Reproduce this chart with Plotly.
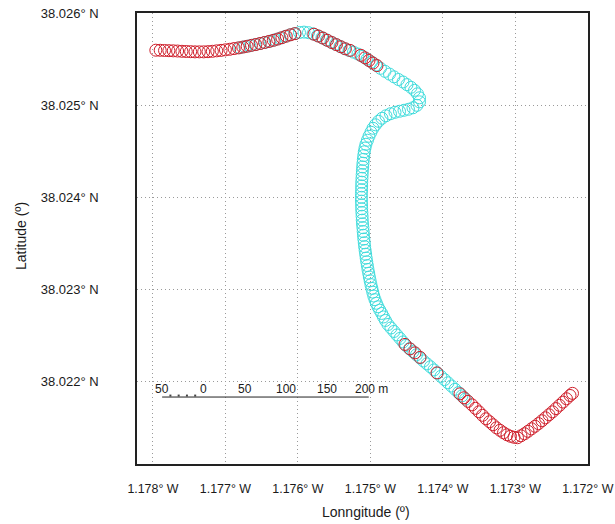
import math
import plotly.graph_objects as go

# ---------------- data ----------------
red_lon = [
    -1.17796, -1.17790, -1.17784, -1.17778, -1.17772, -1.17766, -1.17760, -1.17754, -1.17748, -1.17742,
    -1.17736, -1.17730, -1.17724, -1.17718, -1.17712, -1.17706, -1.17700, -1.17694, -1.17688, -1.17682,
    -1.17676, -1.17670, -1.17664, -1.17658, -1.17652, -1.17646, -1.17640, -1.17634, -1.17628, -1.17622,
    -1.17616, -1.17610, -1.17604,
    -1.175778, -1.175716, -1.175654, -1.175592, -1.175530, -1.175468, -1.175406, -1.175344, -1.175281,
    -1.175130, -1.175074, -1.175019, -1.174964, -1.174909,
    -1.174522, -1.174453, -1.174384, -1.174315, -1.174081,
    -1.173763, -1.173708, -1.173653, -1.173598, -1.173550, -1.173501, -1.173453, -1.173405, -1.173356,
    -1.173308, -1.173260, -1.173211, -1.173163, -1.173115, -1.173067, -1.173018, -1.172970, -1.172922,
    -1.172873, -1.172825, -1.172777, -1.172728, -1.172680, -1.172632, -1.172584, -1.172535, -1.172487,
    -1.172439, -1.172390, -1.172342, -1.172294, -1.172245, -1.172211,
]
red_lat = [
    38.025605, 38.025604, 38.025602, 38.025600, 38.025598, 38.025596, 38.025593, 38.025591, 38.025589, 38.025587,
    38.025587, 38.025587, 38.025589, 38.025593, 38.025598, 38.025603, 38.025609, 38.025615, 38.025623, 38.025630,
    38.025639, 38.025648, 38.025658, 38.025667, 38.025678, 38.025689, 38.025700, 38.025712, 38.025726, 38.025741,
    38.025758, 38.025773, 38.025785,
    38.025779, 38.025759, 38.025737, 38.025712, 38.025688, 38.025665, 38.025642, 38.025620, 38.025603,
    38.025549, 38.025522, 38.025493, 38.025465, 38.025437,
    38.022402, 38.022353, 38.022310, 38.022261, 38.022092,
    38.021864, 38.021821, 38.021782, 38.021744, 38.021706, 38.021668, 38.021630, 38.021592, 38.021560,
    38.021527, 38.021494, 38.021467, 38.021440, 38.021418, 38.021402, 38.021391, 38.021386, 38.021407,
    38.021429, 38.021456, 38.021483, 38.021511, 38.021540, 38.021571, 38.021603, 38.021636, 38.021668,
    38.021703, 38.021739, 38.021774, 38.021810, 38.021846, 38.021869,
]

cyan_lon = [
    -1.176799, -1.176730, -1.176661, -1.176592, -1.176523, -1.176454, -1.176385, -1.176316, -1.176247, -1.176178,
    -1.176109, -1.176040, -1.175978, -1.175916, -1.175854, -1.175792, -1.175730, -1.175668, -1.175606, -1.175544,
    -1.175482, -1.175419, -1.175357, -1.175295, -1.175233, -1.175171, -1.175109, -1.175047, -1.174985, -1.174923,
    -1.174861, -1.174798, -1.174736, -1.174674, -1.174612, -1.174550, -1.174495, -1.174440, -1.174391, -1.174350,
    -1.174322, -1.174322, -1.174357, -1.174412, -1.174474, -1.174536, -1.174598, -1.174660, -1.174723, -1.174785,
    -1.174840, -1.174888, -1.174930, -1.174964, -1.174992, -1.175019, -1.175040,
    -1.175061, -1.175074, -1.175084, -1.175091, -1.175097, -1.175102, -1.175106, -1.175110, -1.175113, -1.175116,
    -1.175119, -1.175120, -1.175121, -1.175123, -1.175123, -1.175123, -1.175121, -1.175120, -1.175117, -1.175114,
    -1.175112, -1.175108, -1.175103, -1.175099, -1.175095, -1.175090, -1.175084, -1.175079, -1.175072, -1.175065,
    -1.175058, -1.175050, -1.175041, -1.175033, -1.175023, -1.175014, -1.175003, -1.174992, -1.174979, -1.174967,
    -1.174953, -1.174936, -1.174917, -1.174895, -1.174870, -1.174843, -1.174819, -1.174792,
    -1.174757, -1.174716, -1.174674, -1.174633, -1.174591, -1.174550, -1.174509, -1.174460, -1.174412, -1.174364,
    -1.174315, -1.174267, -1.174219, -1.174171, -1.174122, -1.174074, -1.174026, -1.173977, -1.173929, -1.173881,
    -1.173832, -1.173784, -1.173736, -1.173688,
]
cyan_lat = [
    38.025632, 38.025643, 38.025653, 38.025665, 38.025677, 38.025690, 38.025703, 38.025718, 38.025736, 38.025754,
    38.025772, 38.025786, 38.025798, 38.025802, 38.025796, 38.025783, 38.025763, 38.025741, 38.025717, 38.025693,
    38.025670, 38.025647, 38.025623, 38.025604, 38.025584, 38.025563, 38.025538, 38.025508, 38.025476, 38.025443,
    38.025408, 38.025375, 38.025345, 38.025315, 38.025286, 38.025259, 38.025230, 38.025201, 38.025168, 38.025130,
    38.025087, 38.025043, 38.025005, 38.024978, 38.024962, 38.024951, 38.024940, 38.024929, 38.024913, 38.024891,
    38.024864, 38.024831, 38.024793, 38.024755, 38.024712, 38.024668, 38.024625,
    38.024581, 38.024540, 38.024499, 38.024458, 38.024416, 38.024375, 38.024334, 38.024292, 38.024251, 38.024210,
    38.024168, 38.024127, 38.024086, 38.024045, 38.024003, 38.023962, 38.023921, 38.023879, 38.023838, 38.023797,
    38.023755, 38.023714, 38.023673, 38.023631, 38.023590, 38.023549, 38.023508, 38.023466, 38.023425, 38.023384,
    38.023342, 38.023301, 38.023260, 38.023218, 38.023177, 38.023136, 38.023094, 38.023053, 38.023012, 38.022971,
    38.022929, 38.022889, 38.022850, 38.022812, 38.022775, 38.022739, 38.022701, 38.022663,
    38.022619, 38.022581, 38.022543, 38.022505, 38.022467, 38.022429, 38.022391, 38.022356, 38.022323, 38.022289,
    38.022255, 38.022222, 38.022190, 38.022158, 38.022124, 38.022089, 38.022054, 38.022019, 38.021984, 38.021949,
    38.021913, 38.021878, 38.021842, 38.021807,
]

lon_ticks = [-1.178, -1.177, -1.176, -1.175, -1.174, -1.173, -1.172]
lon_labels = ["1.178° W", "1.177° W", "1.176° W", "1.175° W", "1.174° W", "1.173° W", "1.172° W"]
lat_ticks = [38.022, 38.023, 38.024, 38.025, 38.026]
lat_labels = ["38.022° N", "38.023° N", "38.024° N", "38.025° N", "38.026° N"]

scale_m = [-50, 0, 50, 100, 150, 200]
scale_labels = ["50", "0", "50", "100", "150", "200 m"]
scale_minor_m = [-40, -30, -20, -10]

# ---------------- styling ----------------
RED = "#cf1f2b"
CYAN = "#3fdcdc"
FONT = "Liberation Sans, Arial, Helvetica, sans-serif"
TXT = "#1a1a1a"

fig = go.Figure()
fig.add_trace(go.Scatter(
    x=cyan_lon, y=cyan_lat, mode="markers", showlegend=False, hoverinfo="skip",
    marker=dict(symbol="circle-open", size=12, color=CYAN, line=dict(width=1, color=CYAN)),
))
fig.add_trace(go.Scatter(
    x=red_lon, y=red_lat, mode="markers", showlegend=False, hoverinfo="skip",
    marker=dict(symbol="circle-open", size=12, color=RED, line=dict(width=1, color=RED)),
))

# scale bar (metres converted to degrees of longitude)
scale_lon0 = -1.177303
scale_lat0 = 38.021829
m_per_deg = 111320.0 * math.cos(math.radians(38.0237))


def m2lon(m):
    return scale_lon0 + m / m_per_deg


fig.add_trace(go.Scatter(
    x=[m2lon(scale_m[0]), m2lon(scale_m[-1])], y=[scale_lat0, scale_lat0],
    mode="lines", line=dict(color="#222222", width=1), showlegend=False, hoverinfo="skip",
))
fig.add_trace(go.Scatter(
    x=[m2lon(m) for m in scale_minor_m], y=[scale_lat0 + 0.000016] * len(scale_minor_m),
    mode="markers", marker=dict(symbol="square", size=2, color="#444444"),
    showlegend=False, hoverinfo="skip",
))

annotations = []
for m, lab in zip(scale_m, scale_labels):
    xs = 3 if lab.endswith("m") else 0
    annotations.append(dict(
        x=m2lon(m), y=scale_lat0, xref="x", yref="y", text=lab, showarrow=False,
        xanchor="center", yanchor="bottom", xshift=xs, yshift=-1,
        font=dict(family=FONT, size=12, color=TXT),
    ))

annotations.append(dict(
    x=0.5078, y=-0.1075, xref="paper", yref="paper", text="Lonngitude (º)",
    showarrow=False, xanchor="center", yanchor="middle",
    font=dict(family=FONT, size=14, color=TXT),
))
annotations.append(dict(
    x=-0.2572, y=0.5055, xref="paper", yref="paper", text="Latitude (º)",
    showarrow=False, xanchor="center", yanchor="middle", textangle=-90,
    font=dict(family=FONT, size=14, color=TXT),
))

axis_common = dict(
    showgrid=True, gridcolor="#9a9a9a", griddash="1px,3px", gridwidth=1,
    zeroline=False, showline=True, mirror=True, linecolor="#222222", linewidth=1.5,
    ticks="", automargin=False, ticklabeloverflow="allow",
)

fig.update_layout(
    width=615, height=524,
    margin=dict(l=137, r=27, t=13, b=60),
    paper_bgcolor="white", plot_bgcolor="white",
    xaxis=dict(range=[-1.17822, -1.171997], tickvals=lon_ticks, ticktext=lon_labels,
               ticklabelstandoff=12, tickfont=dict(family=FONT, size=12.4, color=TXT),
               **axis_common),
    yaxis=dict(range=[38.0211, 38.02601], tickvals=lat_ticks, ticktext=lat_labels,
               ticklabelstandoff=34, tickfont=dict(family=FONT, size=13, color=TXT),
               **axis_common),
    annotations=annotations,
)

fig.write_html("out.html")
